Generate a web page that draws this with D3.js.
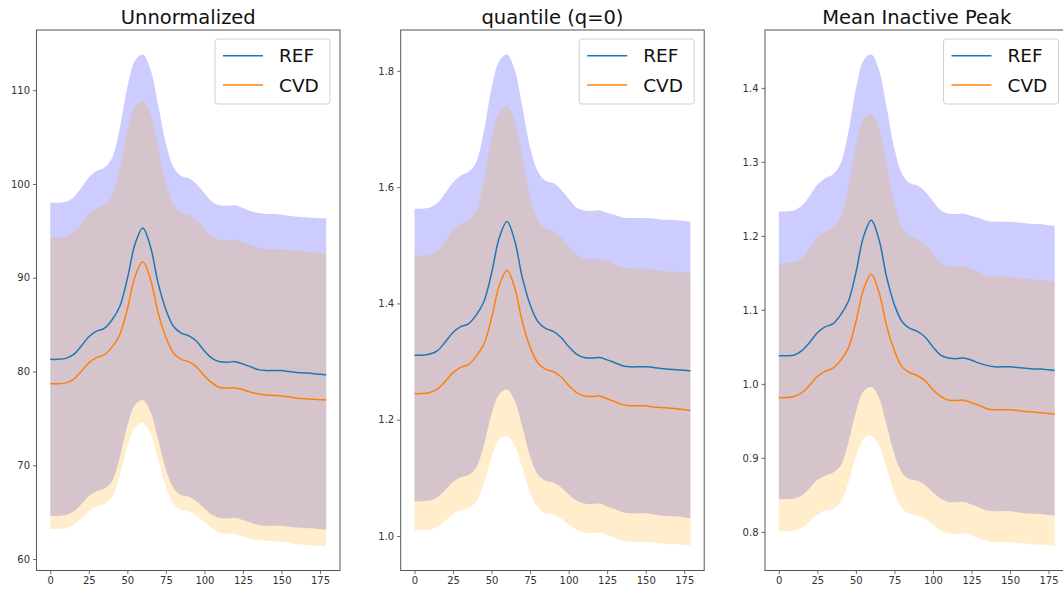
<!DOCTYPE html>
<meta charset="utf-8">
<title>REF vs CVD</title>
<style>
  body { margin: 0; background: #fff; }
  text { font-family: "DejaVu Sans", sans-serif; }
</style>
<body>
<script src="https://cdn.jsdelivr.net/npm/d3@7"></script>
<script>
// sample positions along the x axis (0..179)
var xs = [0,5,10,15,20,25,30,35,40,45,50,55,60,65,70,75,80,85,90,95,100,105,110,115,120,125,130,135,140,145,150,155,160,165,170,175,179];

var titles = ['Unnormalized', 'quantile (q=0)', 'Mean Inactive Peak'];
var seriesNames = ['REF', 'CVD'];

// panel 1 : Unnormalized
var refMean1 = [81.3,81.3,81.4,81.8,82.7,83.7,84.3,84.6,85.5,86.9,89.9,93.6,95.3,93.3,89.4,86.6,84.8,84.1,83.8,83.2,82.2,81.4,81.05,81.0,81.05,80.8,80.5,80.2,80.1,80.1,80.1,80.0,79.9,79.85,79.8,79.7,79.65];
var refUp1   = [98.0,98.0,98.11,98.57,99.58,100.7,101.38,101.73,102.74,105.9,110.32,113.17,113.8,112.22,108.43,104.32,101.79,100.84,100.61,99.98,99.01,98.11,97.72,97.67,97.72,97.43,97.1,96.9,96.8,96.8,96.75,96.6,96.5,96.45,96.4,96.35,96.35];
var refLo1   = [64.6,64.6,64.69,65.04,65.84,66.71,67.24,67.51,68.31,70.78,74.23,76.46,76.95,75.72,72.75,69.54,67.56,66.82,66.64,66.14,65.39,64.69,64.38,64.34,64.38,64.16,63.9,63.62,63.54,63.54,63.54,63.45,63.37,63.32,63.28,63.19,63.14];
var cvdMean1 = [78.7,78.7,78.79,79.17,80.0,80.92,81.48,81.77,82.6,83.9,86.68,90.13,91.7,89.84,86.23,83.63,81.95,81.3,81.03,80.47,79.53,78.79,78.3,78.25,78.25,78.05,77.8,77.6,77.5,77.45,77.4,77.3,77.15,77.1,77.05,77.0,76.95];
var cvdUp1   = [94.3,94.3,94.4,94.83,95.76,96.8,97.42,97.75,98.68,101.6,105.69,108.32,108.9,107.44,103.94,100.14,97.8,96.93,96.71,96.13,95.23,94.4,94.04,93.99,94.04,93.77,93.47,93.15,93.04,93.04,93.04,92.94,92.84,92.78,92.74,92.64,92.58];
var cvdLo1   = [63.2,63.2,63.28,63.61,64.33,65.13,65.62,65.87,66.59,68.85,72.01,74.05,74.5,73.37,70.66,67.72,65.91,65.23,65.06,64.61,63.92,63.28,62.8,62.7,62.65,62.4,62.15,62.0,61.95,61.9,61.85,61.75,61.6,61.5,61.45,61.4,61.4];

// panel 2 : quantile (q=0)
var refMean2 = [1.311,1.311,1.313,1.319,1.334,1.350,1.360,1.365,1.380,1.403,1.452,1.513,1.541,1.508,1.444,1.398,1.369,1.357,1.352,1.342,1.326,1.313,1.307,1.306,1.307,1.303,1.298,1.293,1.291,1.291,1.291,1.290,1.288,1.287,1.286,1.285,1.284];
var refUp2   = [1.563,1.563,1.565,1.573,1.590,1.608,1.620,1.626,1.643,1.696,1.770,1.817,1.828,1.802,1.738,1.669,1.627,1.611,1.607,1.596,1.580,1.565,1.560,1.559,1.560,1.556,1.552,1.548,1.547,1.547,1.547,1.546,1.544,1.544,1.543,1.542,1.541];
var refLo2   = [1.060,1.060,1.061,1.067,1.079,1.093,1.101,1.105,1.118,1.156,1.210,1.244,1.252,1.233,1.187,1.137,1.106,1.095,1.092,1.084,1.072,1.061,1.056,1.055,1.056,1.051,1.046,1.041,1.039,1.039,1.039,1.037,1.035,1.034,1.034,1.032,1.031];
var cvdMean2 = [1.245,1.245,1.247,1.253,1.266,1.281,1.290,1.295,1.309,1.330,1.375,1.431,1.457,1.427,1.368,1.325,1.298,1.287,1.283,1.274,1.259,1.247,1.241,1.240,1.241,1.236,1.231,1.226,1.224,1.224,1.224,1.222,1.221,1.220,1.219,1.217,1.216];
var cvdUp2   = [1.482,1.482,1.484,1.491,1.508,1.526,1.537,1.543,1.559,1.611,1.683,1.729,1.739,1.713,1.652,1.585,1.544,1.528,1.524,1.514,1.498,1.484,1.477,1.477,1.477,1.473,1.467,1.462,1.460,1.460,1.460,1.458,1.456,1.455,1.455,1.453,1.452];
var cvdLo2   = [1.010,1.010,1.011,1.016,1.026,1.038,1.045,1.048,1.059,1.091,1.136,1.166,1.172,1.156,1.117,1.075,1.049,1.039,1.037,1.030,1.020,1.011,1.006,1.005,1.006,1.002,0.997,0.992,0.990,0.990,0.990,0.989,0.987,0.986,0.986,0.984,0.983];

// panel 3 : Mean Inactive Peak
var refMean3 = [1.038,1.038,1.039,1.045,1.056,1.069,1.077,1.081,1.093,1.111,1.150,1.199,1.221,1.195,1.144,1.107,1.084,1.075,1.071,1.063,1.050,1.039,1.035,1.034,1.035,1.032,1.028,1.025,1.023,1.023,1.023,1.022,1.021,1.020,1.020,1.019,1.018];
var refUp3   = [1.233,1.233,1.2345,1.241,1.254,1.269,1.278,1.283,1.297,1.339,1.398,1.437,1.445,1.424,1.373,1.318,1.284,1.271,1.268,1.2595,1.247,1.2345,1.230,1.2296,1.230,1.227,1.224,1.220,1.219,1.219,1.219,1.218,1.217,1.216,1.216,1.2145,1.214];
var refLo3   = [0.844,0.844,0.845,0.849,0.859,0.870,0.876,0.880,0.889,0.920,0.962,0.990,0.9957,0.981,0.944,0.9045,0.880,0.871,0.869,0.863,0.8534,0.845,0.8404,0.840,0.8404,0.837,0.833,0.829,0.828,0.828,0.828,0.8266,0.825,0.8246,0.824,0.8227,0.822];
var cvdMean3 = [0.9815,0.9815,0.983,0.988,0.998,1.010,1.017,1.021,1.0315,1.048,1.084,1.128,1.148,1.124,1.078,1.045,1.023,1.015,1.011,1.004,0.992,0.983,0.978,0.9775,0.978,0.9746,0.971,0.9665,0.965,0.965,0.965,0.964,0.9625,0.962,0.961,0.960,0.959];
var cvdUp3   = [1.163,1.163,1.164,1.170,1.183,1.198,1.206,1.211,1.224,1.264,1.321,1.357,1.365,1.345,1.296,1.244,1.2115,1.199,1.196,1.188,1.176,1.164,1.159,1.1585,1.159,1.155,1.151,1.146,1.145,1.145,1.145,1.143,1.142,1.141,1.140,1.139,1.138];
var cvdLo3   = [0.801,0.801,0.802,0.806,0.814,0.823,0.829,0.831,0.840,0.8655,0.902,0.925,0.930,0.917,0.886,0.853,0.832,0.824,0.822,0.817,0.809,0.802,0.798,0.797,0.798,0.795,0.791,0.788,0.786,0.786,0.786,0.785,0.784,0.783,0.783,0.782,0.781];

var xTicks = [0,25,50,75,100,125,150,175];
var yTicks1 = [60,70,80,90,100,110];
var yTicks2 = [1.0,1.2,1.4,1.6,1.8];
var yTicks3 = [0.8,0.9,1.0,1.1,1.2,1.3,1.4];

var refColor = '#1f77b4', cvdColor = '#ff7f0e';

var panels = [
  {title: titles[0], ref: [refLo1, refMean1, refUp1], cvd: [cvdLo1, cvdMean1, cvdUp1], yTicks: yTicks1, fmt: d3.format('d')},
  {title: titles[1], ref: [refLo2, refMean2, refUp2], cvd: [cvdLo2, cvdMean2, cvdUp2], yTicks: yTicks2, fmt: d3.format('.1f')},
  {title: titles[2], ref: [refLo3, refMean3, refUp3], cvd: [cvdLo3, cvdMean3, cvdUp3], yTicks: yTicks3, fmt: d3.format('.1f')}
];

var W = 1063, H = 592;
var axLeft = [36.5, 400.7, 765], axTop = 30, axW = 303.5, axH = 540.5;
var smooth = d3.curveCatmullRom.alpha(0.5);

var svg = d3.select('body').append('svg')
  .attr('width', W)
  .attr('height', H);

// matplotlib-like 5% margins around the data
function padded(lo, hi) {
  var p = (hi - lo) * 0.05;
  return [lo - p, hi + p];
}

panels.forEach(function(pn, k) {
  var g = svg.append('g').attr('transform', 'translate(' + axLeft[k] + ',' + axTop + ')');

  var x = d3.scaleLinear().domain(padded(d3.min(xs), d3.max(xs))).range([0, axW]);
  var all = pn.ref.concat(pn.cvd);
  var y = d3.scaleLinear()
    .domain(padded(d3.min(all, function(a) { return d3.min(a); }), d3.max(all, function(a) { return d3.max(a); })))
    .range([axH, 0]);

  var band = function(lo, hi) {
    return d3.area()
      .x(function(d, i) { return x(xs[i]); })
      .y0(function(d, i) { return y(lo[i]); })
      .y1(function(d, i) { return y(hi[i]); })
      .curve(smooth)(xs);
  };
  var line = d3.line()
    .x(function(d, i) { return x(xs[i]); })
    .y(function(d) { return y(d); })
    .curve(smooth);

  // bands: REF first (blue), CVD on top (orange)
  g.append('path').attr('d', band(pn.ref[0], pn.ref[2]))
    .style('fill', '#0000ff').style('fill-opacity', 0.2);
  g.append('path').attr('d', band(pn.cvd[0], pn.cvd[2]))
    .style('fill', '#ffa500').style('fill-opacity', 0.2);

  g.append('path').attr('d', line(pn.ref[1]))
    .style('fill', 'none').style('stroke', refColor).style('stroke-width', 1.5);
  g.append('path').attr('d', line(pn.cvd[1]))
    .style('fill', 'none').style('stroke', cvdColor).style('stroke-width', 1.5);

  // axes
  var xa = g.append('g').attr('transform', 'translate(0,' + axH + ')')
    .call(d3.axisBottom(x).tickValues(xTicks).tickSize(3.5).tickPadding(3));
  var ya = g.append('g')
    .call(d3.axisLeft(y).tickValues(pn.yTicks).tickFormat(pn.fmt).tickSize(3.5).tickPadding(3));
  [xa, ya].forEach(function(a) {
    a.select('.domain').remove();
    a.selectAll('line').style('stroke', '#444').style('stroke-width', 0.8);
    a.selectAll('text').style('font-size', '10px').style('fill', '#333')
      .style('font-family', '"DejaVu Sans", sans-serif');
  });

  g.append('rect')
    .attr('x', 0).attr('y', 0)
    .attr('width', axW).attr('height', axH)
    .style('fill', 'none').style('stroke', '#555').style('stroke-width', 1);

  g.append('text')
    .attr('x', axW / 2).attr('y', -6)
    .attr('text-anchor', 'middle')
    .style('font-size', '19.5px').style('fill', '#111')
    .text(pn.title);

  // legend
  var lg = g.append('g').attr('transform', 'translate(' + (axW - 125) + ',9)');
  lg.append('rect')
    .attr('width', 115).attr('height', 65).attr('rx', 3).attr('ry', 3)
    .style('fill', '#fff').style('fill-opacity', 0.8)
    .style('stroke', '#d0d0d0').style('stroke-width', 1);
  [refColor, cvdColor].forEach(function(c, i) {
    var yy = 16.7 + i * 29.3;
    lg.append('line')
      .attr('x1', 8).attr('x2', 48).attr('y1', yy).attr('y2', yy)
      .style('stroke', c).style('stroke-width', 1.5);
    lg.append('text')
      .attr('x', 64).attr('y', yy + 6.5)
      .style('font-size', '18.5px').style('fill', '#111')
      .text(seriesNames[i]);
  });
});
</script>
